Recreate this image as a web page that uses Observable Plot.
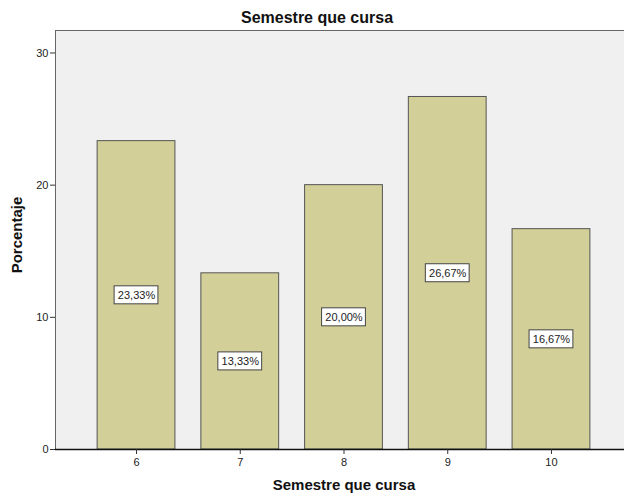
<!DOCTYPE html>
<html>
<head>
<meta charset="utf-8">
<script src="https://cdn.jsdelivr.net/npm/d3@7"></script>
<script src="https://cdn.jsdelivr.net/npm/@observablehq/plot@0.6"></script>
<style>
  html, body { margin: 0; padding: 0; background: white; overflow: hidden; }
  svg { overflow: hidden; }
</style>
</head>
<body>
<div id="chart"></div>
<script>
const categories = ["6", "7", "8", "9", "10"];
const percentages = [23.33, 13.33, 20.00, 26.67, 16.67];
const yTicks = [0, 10, 20, 30];
const title = "Semestre que cursa";
const xLabel = "Semestre que cursa";
const yLabel = "Porcentaje";

const data = categories.map((c, i) => ({semestre: c, pct: percentages[i]}));
const fmt = v => v.toFixed(2).replace(".", ",") + "%";
const font = "'Liberation Sans', Arial, sans-serif";

const chart = Plot.plot({
  width: 624,
  height: 499,
  marginTop: 30,
  marginBottom: 50,
  marginLeft: 55,
  marginRight: -8,
  style: {fontFamily: font, fontSize: "11px", color: "#222", background: "white", overflow: "hidden"},
  x: {domain: categories, paddingInner: 0.25, paddingOuter: 0.406, round: false, label: null},
  y: {domain: [0, 31.7], label: null},
  marks: [
    Plot.frame({fill: "#f0f0f0", stroke: "#666", strokeWidth: 1}),
    Plot.barY(data, {x: "semestre", y: "pct", fill: "#d2cf98", stroke: "#555", strokeWidth: 1}),
    Plot.barY(data, {x: "semestre", y1: d => d.pct / 2, y2: d => d.pct / 2,
      insetTop: -9, insetBottom: -9, insetLeft: 17, insetRight: 17,
      fill: "white", stroke: "#444", strokeWidth: 1}),
    Plot.text(data, {x: "semestre", y: d => d.pct / 2, text: d => fmt(d.pct),
      fontSize: 11, fill: "#222"}),
    Plot.ruleY([0], {stroke: "#111", strokeWidth: 1.5}),
    Plot.axisY({ticks: yTicks, tickSize: 5, tickPadding: 2, label: null, fontSize: 11, stroke: "#333"}),
    Plot.axisX({tickSize: 5, tickPadding: 4, label: null, fontSize: 11, stroke: "#333"}),
    Plot.text([title], {frameAnchor: "top", lineAnchor: "middle", dy: -13, dx: -27, fontSize: 16, fontWeight: "bold", fill: "#111"}),
    Plot.text([xLabel], {frameAnchor: "bottom", dy: 40, fontSize: 15, fontWeight: "bold", fill: "#111"}),
    Plot.text([yLabel], {frameAnchor: "left", dx: -38, dy: -5, rotate: -90, textAnchor: "middle",
      fontSize: 15, fontWeight: "bold", fill: "#111"})
  ]
});
document.getElementById("chart").appendChild(chart);
</script>
</body>
</html>
